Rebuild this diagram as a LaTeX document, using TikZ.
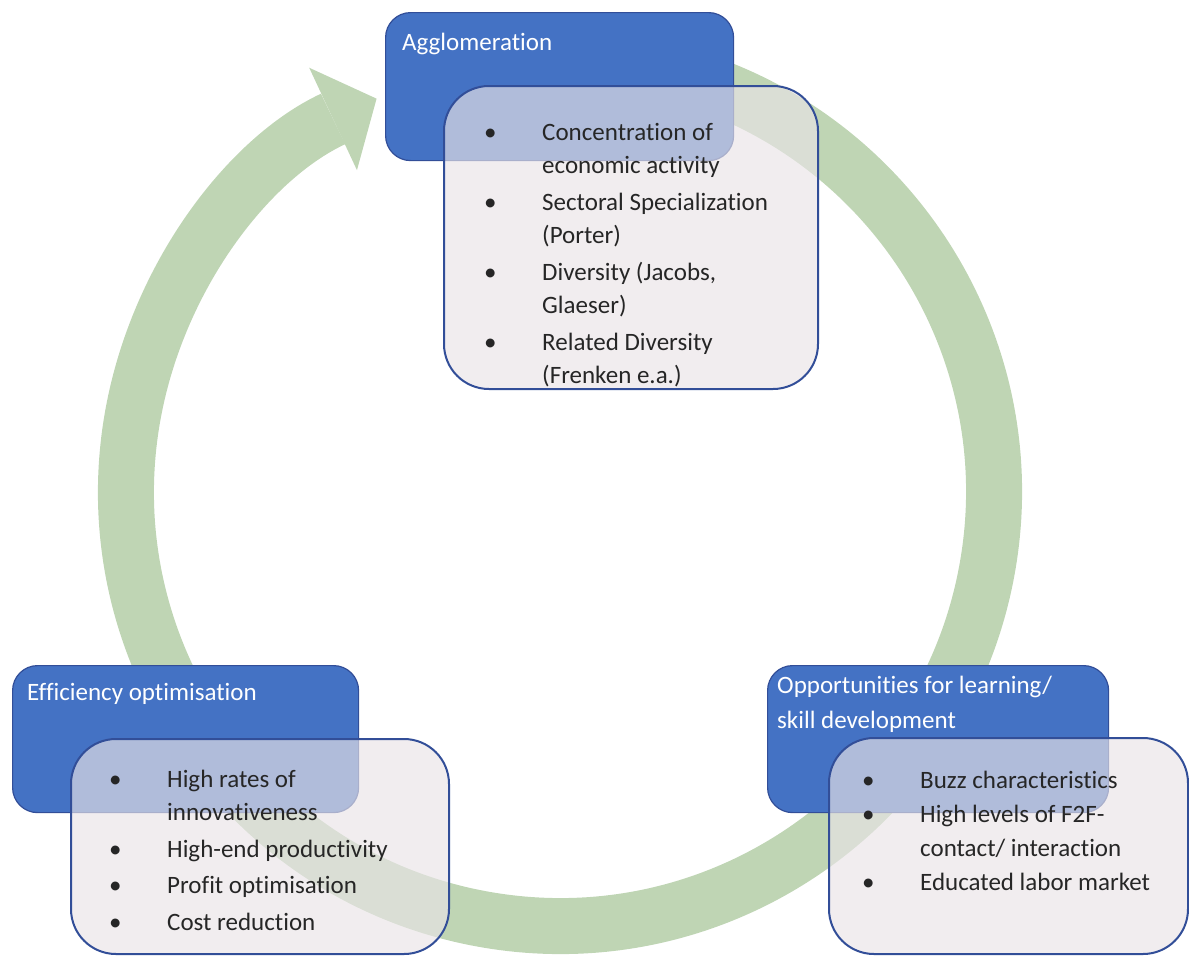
\documentclass[tikz,border=0pt]{standalone}
\usepackage{fontspec}
\setmainfont{Carlito}[Ligatures=CommonOff]
\usetikzlibrary{arrows.meta}
\definecolor{bleu}{RGB}{68,114,196}
\definecolor{bord}{RGB}{50,78,152}
\definecolor{gris}{RGB}{234,228,231}
\definecolor{vert}{RGB}{191,213,180}
\definecolor{encre}{RGB}{38,38,38}

\begin{document}
\begin{tikzpicture}[x=1pt,y=-1pt]
\tikzset{titre/.style={draw=bord, line width=1.2pt, fill=bleu, rounded corners=25pt, anchor=north west, inner sep=0pt},
  liste/.style={draw=bord, line width=2pt, fill=gris, fill opacity=0.65, text opacity=1, rounded corners=45pt, anchor=north west, inner sep=0pt},
  entete/.style={anchor=base west, inner sep=0pt, text=white, font=\fontsize{25}{35}\selectfont},
  puces/.style={anchor=base west, inner sep=0pt, text=encre, font=\fontsize{25}{33.5}\selectfont}}
\useasboundingbox (0,0) rectangle (1189,956);
\coordinate (C) at (560,492);
\draw[vert, line width=56pt, -{Triangle[width=113pt, length=48pt, line width=0pt]}] (C) ++(80:434pt) arc[start angle=80, end angle=-245, radius=434pt];
\node[titre, minimum width=348pt, minimum height=148pt] (T1) at (385,12) {};
\node[liste, minimum width=374pt, minimum height=303pt] (L1) at (443,85) {};
\node[titre, minimum width=346pt, minimum height=147pt] (T2) at (12,665) {};
\node[liste, minimum width=378pt, minimum height=215pt] (L2) at (70,738) {};
\node[titre, minimum width=341pt, minimum height=147pt] (T3) at (767,665) {};
\node[liste, minimum width=359pt, minimum height=216pt] (L3) at (828,737) {};
\node[entete] (E1) at (402,50) {Agglomeration};
\node[entete] (E2) at (27,700) {Efficiency optimisation};
\node[entete] (E3) at (777,693) {\begin{tabular}[t]{@{}l@{}}Opportunities for learning/\\skill development\end{tabular}};
\node[puces] (P1) at (484,140) {\begin{tabular}[t]{@{}p{58pt}@{}l@{}}
\textbullet & Concentration of\\
 & economic activity\\[3pt]
\textbullet & Sectoral Specialization\\
 & (Porter)\\[3pt]
\textbullet & Diversity (Jacobs,\\
 & Glaeser)\\[3pt]
\textbullet & Related Diversity\\
 & (Frenken e.a.)
\end{tabular}};
\node[puces] (P2) at (109,787) {\begin{tabular}[t]{@{}p{58pt}@{}l@{}}
\textbullet & High rates of\\
 & innovativeness\\[3pt]
\textbullet & High-end productivity\\[3pt]
\textbullet & Profit optimisation\\[3pt]
\textbullet & Cost reduction
\end{tabular}};
\node[puces] (P3) at (862,788) {\begin{tabular}[t]{@{}p{58pt}@{}l@{}}
\textbullet & Buzz characteristics\\[1pt]
\textbullet & High levels of F2F-\\
 & contact/ interaction\\[1pt]
\textbullet & Educated labor market
\end{tabular}};
\end{tikzpicture}
\end{document}
